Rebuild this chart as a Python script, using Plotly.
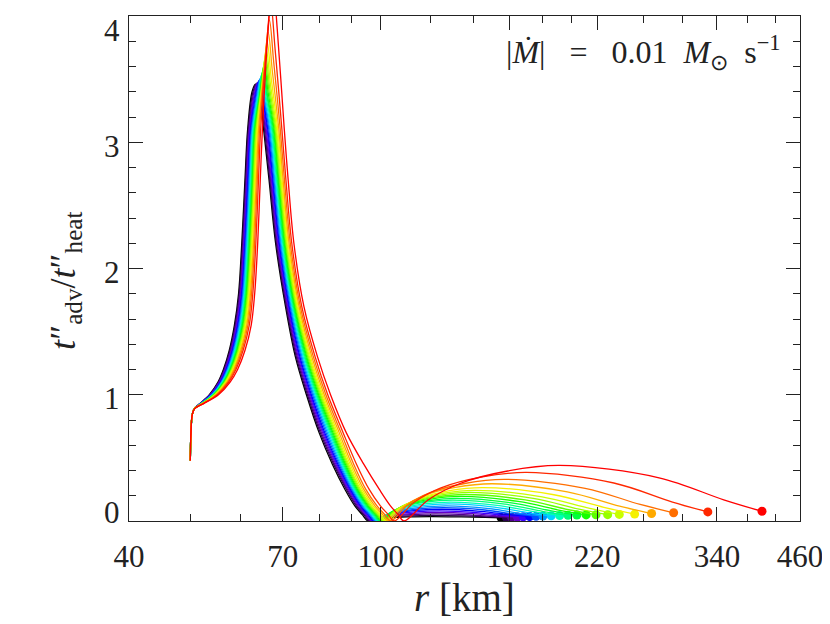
import numpy as np
import plotly.graph_objects as go

# ---------------- data ----------------
# common start of every curve (r in km, value)
R_START = [50.0, 50.12, 50.35]
Y_START = [0.48, 0.70, 0.84]

# rising flank: common value levels, per-curve radii
Y_RISE = [0.89, 0.93, 1.00, 1.10, 1.20, 1.35, 1.55, 1.80, 2.20, 2.70, 3.10]
RISE_R = [
    [50.70, 51.80, 53.60, 55.30, 56.40, 57.60, 58.70, 59.60, 60.30, 61.00, 61.60],
    [50.70, 51.83, 53.67, 55.40, 56.52, 57.74, 58.85, 59.74, 60.44, 61.14, 61.74],
    [50.71, 51.86, 53.74, 55.50, 56.64, 57.87, 58.99, 59.89, 60.59, 61.28, 61.87],
    [50.71, 51.88, 53.82, 55.60, 56.76, 58.01, 59.14, 60.03, 60.73, 61.42, 62.01],
    [50.72, 51.91, 53.89, 55.70, 56.88, 58.14, 59.29, 60.18, 60.88, 61.56, 62.14],
    [50.72, 51.94, 53.96, 55.80, 57.00, 58.28, 59.44, 60.32, 61.02, 61.70, 62.28],
    [50.72, 51.97, 54.04, 55.91, 57.14, 58.43, 59.61, 60.48, 61.18, 61.86, 62.43],
    [50.73, 52.00, 54.12, 56.03, 57.27, 58.59, 59.77, 60.64, 61.34, 62.02, 62.59],
    [50.73, 52.03, 54.20, 56.14, 57.41, 58.74, 59.94, 60.81, 61.51, 62.17, 62.74],
    [50.74, 52.07, 54.28, 56.25, 57.54, 58.89, 60.11, 60.97, 61.67, 62.33, 62.89],
    [50.74, 52.09, 54.36, 56.35, 57.66, 59.03, 60.25, 61.11, 61.81, 62.47, 63.03],
    [50.75, 52.12, 54.43, 56.45, 57.78, 59.16, 60.40, 61.26, 61.96, 62.61, 63.16],
    [50.75, 52.15, 54.50, 56.55, 57.90, 59.30, 60.55, 61.40, 62.10, 62.75, 63.30],
    [50.75, 52.18, 54.57, 56.65, 58.02, 59.44, 60.70, 61.54, 62.24, 62.89, 63.44],
    [50.76, 52.21, 54.64, 56.75, 58.14, 59.57, 60.85, 61.69, 62.39, 63.03, 63.57],
    [50.76, 52.23, 54.72, 56.85, 58.26, 59.71, 60.99, 61.83, 62.53, 63.17, 63.71],
    [50.77, 52.27, 54.81, 56.98, 58.41, 59.88, 61.18, 62.01, 62.71, 63.35, 63.88],
    [50.77, 52.31, 54.91, 57.13, 58.59, 60.08, 61.40, 62.23, 62.93, 63.56, 64.08],
    [50.78, 52.36, 55.04, 57.30, 58.80, 60.32, 61.66, 62.48, 63.18, 63.80, 64.32],
    [50.79, 52.42, 55.18, 57.50, 59.04, 60.59, 61.96, 62.77, 63.47, 64.08, 64.59],
    [50.80, 52.50, 55.40, 57.80, 59.40, 61.00, 62.40, 63.20, 63.90, 64.50, 65.00],
]

# peak: before / top / after
PEAK_R = [
    [62.60, 63.40, 64.20], [62.75, 63.56, 64.37], [62.90, 63.73, 64.55],
    [63.05, 63.89, 64.73], [63.21, 64.06, 64.91], [63.36, 64.22, 65.08],
    [63.53, 64.40, 65.28], [63.70, 64.59, 65.48], [63.87, 64.77, 65.67],
    [64.05, 64.96, 65.87], [64.19, 65.12, 66.05], [64.35, 65.29, 66.23],
    [64.50, 65.45, 66.40], [64.65, 65.61, 66.57], [64.80, 65.78, 66.75],
    [64.95, 65.94, 66.93], [65.15, 66.15, 67.15], [65.37, 66.39, 67.41],
    [65.64, 66.68, 67.72], [65.95, 67.01, 68.07], [66.40, 67.50, 68.60],
]
PEAK_Y = [
    [3.40, 3.46, 3.40], [3.39, 3.46, 3.39], [3.38, 3.47, 3.38],
    [3.37, 3.47, 3.37], [3.37, 3.48, 3.37], [3.36, 3.49, 3.36],
    [3.36, 3.50, 3.36], [3.35, 3.51, 3.35], [3.36, 3.53, 3.36],
    [3.36, 3.55, 3.36], [3.37, 3.57, 3.37], [3.37, 3.59, 3.37],
    [3.39, 3.62, 3.39], [3.41, 3.65, 3.41], [3.43, 3.69, 3.43],
    [3.46, 3.73, 3.46], [3.50, 3.79, 3.50], [3.56, 3.87, 3.56],
    [3.64, 3.97, 3.64], [3.74, 4.10, 3.74], [3.90, 4.30, 3.90],
]

# falling flank down to the zero crossing: common levels, per-curve radii
Y_FALL = [3.10, 2.70, 2.20, 1.70, 1.30, 1.00, 0.70, 0.45, 0.25, 0.12, 0.05, 0.0]
FALL_R = [
    [65.30, 66.60, 68.20, 70.70, 73.30, 76.30, 79.90, 83.85, 87.80, 91.00, 93.50, 95.5],
    [65.50, 66.79, 68.39, 70.90, 73.55, 76.58, 80.23, 84.24, 88.24, 91.47, 93.99, 96.0],
    [65.71, 66.98, 68.58, 71.09, 73.80, 76.86, 80.56, 84.57, 88.57, 91.84, 94.38, 96.4],
    [65.91, 67.18, 68.76, 71.29, 74.04, 77.14, 80.90, 84.91, 88.91, 92.22, 94.78, 96.8],
    [66.12, 67.37, 68.95, 71.48, 74.29, 77.42, 81.23, 85.24, 89.24, 92.59, 95.17, 97.2],
    [66.32, 67.56, 69.14, 71.68, 74.54, 77.70, 81.56, 85.57, 89.58, 92.96, 95.56, 97.6],
    [66.55, 67.78, 69.35, 71.90, 74.82, 78.02, 81.93, 85.92, 89.91, 93.33, 95.95, 98.0],
    [66.78, 67.99, 69.56, 72.12, 75.10, 78.33, 82.31, 86.28, 90.24, 93.70, 96.34, 98.4],
    [67.01, 68.21, 69.77, 72.34, 75.38, 78.65, 82.68, 86.62, 90.56, 94.07, 96.73, 98.8],
    [67.24, 68.42, 69.99, 72.56, 75.66, 78.96, 83.05, 86.97, 90.89, 94.43, 97.12, 99.2],
    [67.44, 68.62, 70.17, 72.76, 75.90, 79.24, 83.39, 87.31, 91.23, 94.81, 97.52, 99.6],
    [67.65, 68.81, 70.36, 72.95, 76.15, 79.52, 83.72, 87.64, 91.56, 95.18, 97.91, 100.0],
    [67.85, 69.00, 70.55, 73.15, 76.40, 79.80, 84.05, 87.98, 91.90, 95.55, 98.30, 100.4],
    [68.05, 69.19, 70.74, 73.35, 76.65, 80.08, 84.38, 88.31, 92.24, 95.92, 98.69, 100.8],
    [68.26, 69.38, 70.93, 73.54, 76.90, 80.36, 84.71, 88.64, 92.57, 96.29, 99.08, 101.2],
    [68.46, 69.58, 71.11, 73.74, 77.14, 80.64, 85.05, 88.98, 92.91, 96.67, 99.48, 101.6],
    [68.72, 69.82, 71.35, 73.98, 77.45, 80.99, 85.46, 89.45, 93.43, 97.23, 100.07, 102.2],
    [69.02, 70.10, 71.63, 74.28, 77.83, 81.41, 85.96, 90.00, 94.03, 97.89, 100.75, 102.9],
    [69.38, 70.44, 71.96, 74.62, 78.26, 81.90, 86.54, 90.63, 94.72, 98.64, 101.54, 103.7],
    [69.79, 70.82, 72.34, 75.01, 78.76, 82.46, 87.20, 91.55, 95.89, 99.88, 102.82, 105.0],
    [70.40, 71.40, 72.90, 75.60, 79.45, 83.30, 88.20, 94.00, 99.50, 103.60, 106.60, 108.8],
]

# outer hump after the zero crossing; last point = end of the curve (dot)
HUMP_R = [
    [98.44, 102.85, 110.2, 120, 134.0, 146.3, 155.0],
    [99.00, 103.50, 111.0, 121, 135.8, 148.8, 158.0],
    [99.47, 104.08, 111.8, 122, 137.6, 151.3, 161.0],
    [99.94, 104.66, 112.5, 123, 139.6, 154.1, 164.5],
    [100.42, 105.24, 113.3, 124, 141.6, 157.0, 168.0],
    [100.89, 105.82, 114.0, 125, 143.8, 160.3, 172.0],
    [101.36, 106.40, 114.8, 126, 146.0, 163.5, 176.0],
    [101.83, 106.98, 115.6, 127, 148.4, 167.1, 180.5],
    [102.30, 107.56, 116.3, 128, 151.2, 171.5, 186.0],
    [102.78, 108.14, 117.1, 129, 154.1, 176.1, 191.8],
    [103.25, 108.72, 117.8, 130, 157.1, 180.8, 197.7],
    [103.84, 109.60, 119.2, 132, 160.9, 186.2, 204.2],
    [104.43, 110.48, 120.6, 134, 164.9, 191.9, 211.2],
    [105.02, 111.36, 121.9, 136, 169.2, 198.2, 218.9],
    [105.62, 112.24, 123.3, 138, 174.2, 205.8, 228.4],
    [106.33, 113.42, 125.2, 141, 179.9, 214.0, 238.3],
    [107.34, 115.04, 127.9, 145, 187.8, 225.3, 252.0],
    [108.55, 117.03, 131.2, 150, 197.2, 238.5, 268.0],
    [110.10, 119.69, 135.7, 157, 210.4, 257.1, 290.4],
    [112.80, 124.50, 144.0, 170, 233.6, 289.2, 328.9],
    [118.78, 133.76, 158.7, 192, 275.4, 348.5, 400.6],
]
HUMP_Y = [
    [0.013, 0.024, 0.032, 0.035, 0.032, 0.028, 0.025],
    [0.017, 0.031, 0.041, 0.045, 0.040, 0.032, 0.027],
    [0.021, 0.038, 0.050, 0.056, 0.049, 0.036, 0.029],
    [0.026, 0.046, 0.061, 0.068, 0.058, 0.040, 0.031],
    [0.030, 0.054, 0.072, 0.080, 0.067, 0.045, 0.033],
    [0.035, 0.063, 0.084, 0.093, 0.077, 0.050, 0.035],
    [0.040, 0.072, 0.095, 0.106, 0.087, 0.054, 0.037],
    [0.046, 0.082, 0.108, 0.120, 0.098, 0.059, 0.039],
    [0.051, 0.092, 0.122, 0.135, 0.110, 0.065, 0.041],
    [0.057, 0.102, 0.135, 0.150, 0.121, 0.070, 0.043],
    [0.063, 0.112, 0.149, 0.165, 0.133, 0.075, 0.045],
    [0.068, 0.122, 0.162, 0.180, 0.144, 0.080, 0.047],
    [0.074, 0.133, 0.176, 0.195, 0.155, 0.085, 0.048],
    [0.080, 0.143, 0.189, 0.210, 0.167, 0.089, 0.049],
    [0.086, 0.154, 0.203, 0.226, 0.179, 0.094, 0.050],
    [0.092, 0.165, 0.219, 0.243, 0.191, 0.100, 0.052],
    [0.101, 0.180, 0.239, 0.265, 0.208, 0.108, 0.055],
    [0.112, 0.201, 0.266, 0.295, 0.231, 0.118, 0.059],
    [0.125, 0.224, 0.297, 0.330, 0.259, 0.131, 0.065],
    [0.146, 0.262, 0.347, 0.385, 0.301, 0.150, 0.072],
    [0.167, 0.299, 0.396, 0.440, 0.342, 0.168, 0.077],
]

X_TICKS = [40, 70, 100, 160, 220, 340, 460]
X_MINOR = [50, 60, 80, 90, 120, 140, 180, 200, 260, 300, 380, 420]
Y_TICKS = [0, 1, 2, 3, 4]

# ---------------- styles ----------------
COLORS = ["#000000", "#2a0050", "#50008c", "#6400c8", "#3c00ff", "#0000ff",
          "#0050ff", "#0096ff", "#00d2ff", "#00ffb4", "#00ff78", "#00ff3c",
          "#14ff00", "#5aff00", "#96ff00", "#c8ff00", "#f5f000", "#ffaa00",
          "#ff6e00", "#ff2800", "#ff0000"]

FONT = "Liberation Serif"
INK = "#222222"
# vertical nudges of the y tick labels (end labels pulled inward, as in the reference)
Y_LABEL_SHIFT = {0: 9, 1: -4, 2: -4, 3: -4, 4: -14}
NB = "\u00a0"

fig = go.Figure()
for k, col in enumerate(COLORS):
    r = R_START + RISE_R[k] + PEAK_R[k] + FALL_R[k] + HUMP_R[k]
    y = Y_START + Y_RISE + PEAK_Y[k] + Y_FALL + HUMP_Y[k]
    fig.add_trace(go.Scatter(x=r, y=y, mode="lines",
                             line=dict(color=col, width=1.3, shape="spline",
                                       smoothing=1.0),
                             hoverinfo="skip", showlegend=False))
    fig.add_trace(go.Scatter(x=[r[-1]], y=[y[-1]], mode="markers",
                             marker=dict(color=col, size=9, line=dict(width=0)),
                             hoverinfo="skip", showlegend=False))

axis_common = dict(showgrid=False, zeroline=False, showline=True,
                   linecolor=INK, linewidth=1.3, mirror="ticks",
                   ticks="inside", ticklen=14, tickwidth=1.1, tickcolor=INK,
                   tickfont=dict(family=FONT, size=31, color=INK))

fig.update_xaxes(type="log", range=[np.log10(40), np.log10(460)],
                 tickmode="array", tickvals=X_TICKS,
                 ticktext=[str(v) for v in X_TICKS],
                 minor=dict(tickmode="array", tickvals=X_MINOR, ticks="inside",
                            ticklen=7, tickwidth=1.1, tickcolor=INK,
                            showgrid=False),
                 ticklabelstandoff=8, ticklabeloverflow="allow",
                 **axis_common)
fig.update_yaxes(range=[0, 4], tickmode="array", tickvals=Y_TICKS,
                 showticklabels=False,
                 minor=dict(dtick=0.2, tick0=0, ticks="inside", ticklen=7,
                            tickwidth=1.1, tickcolor=INK, showgrid=False),
                 **axis_common)

annotations = []
for v in Y_TICKS:
    annotations.append(dict(text=str(v), xref="paper", yref="y", x=0, y=v,
                            xanchor="right", yanchor="middle", xshift=-7,
                            yshift=Y_LABEL_SHIFT[v], showarrow=False,
                            font=dict(family=FONT, size=31, color=INK)))
annotations += [
    dict(text="<i>r</i> [km]", xref="paper", yref="paper",
         x=0.5, y=-0.152, xanchor="center", yanchor="middle",
         showarrow=False, font=dict(family=FONT, size=39, color=INK)),
    dict(text="<i>t</i>\u2033<sub>adv</sub>/<i>t</i>\u2033<sub>heat</sub>",
         xref="paper", yref="paper", x=-0.095, y=0.476, textangle=-90,
         xanchor="center", yanchor="middle", showarrow=False,
         font=dict(family=FONT, size=36, color=INK)),
    dict(text="|<i>\u1e40</i>|" + NB * 3 + "=" + NB * 3 + "0.01" + NB * 2
         + "<i>M</i><sub>\u2299</sub>" + NB * 2 + "s<sup>\u22121</sup>",
         xref="paper", yref="paper", x=0.973, y=0.927,
         xanchor="right", yanchor="middle", showarrow=False,
         font=dict(family=FONT, size=32, color=INK)),
]

# the page body adds an 8 px offset; the margins below place the plot area at
# x 129..804 and y 15..521 of the 830x624 window
fig.update_layout(
    width=822, height=616,
    margin=dict(l=121, r=26, t=7, b=103),
    paper_bgcolor="white", plot_bgcolor="white",
    font=dict(family=FONT, color=INK),
    annotations=annotations,
)

fig.write_html("out.html")
